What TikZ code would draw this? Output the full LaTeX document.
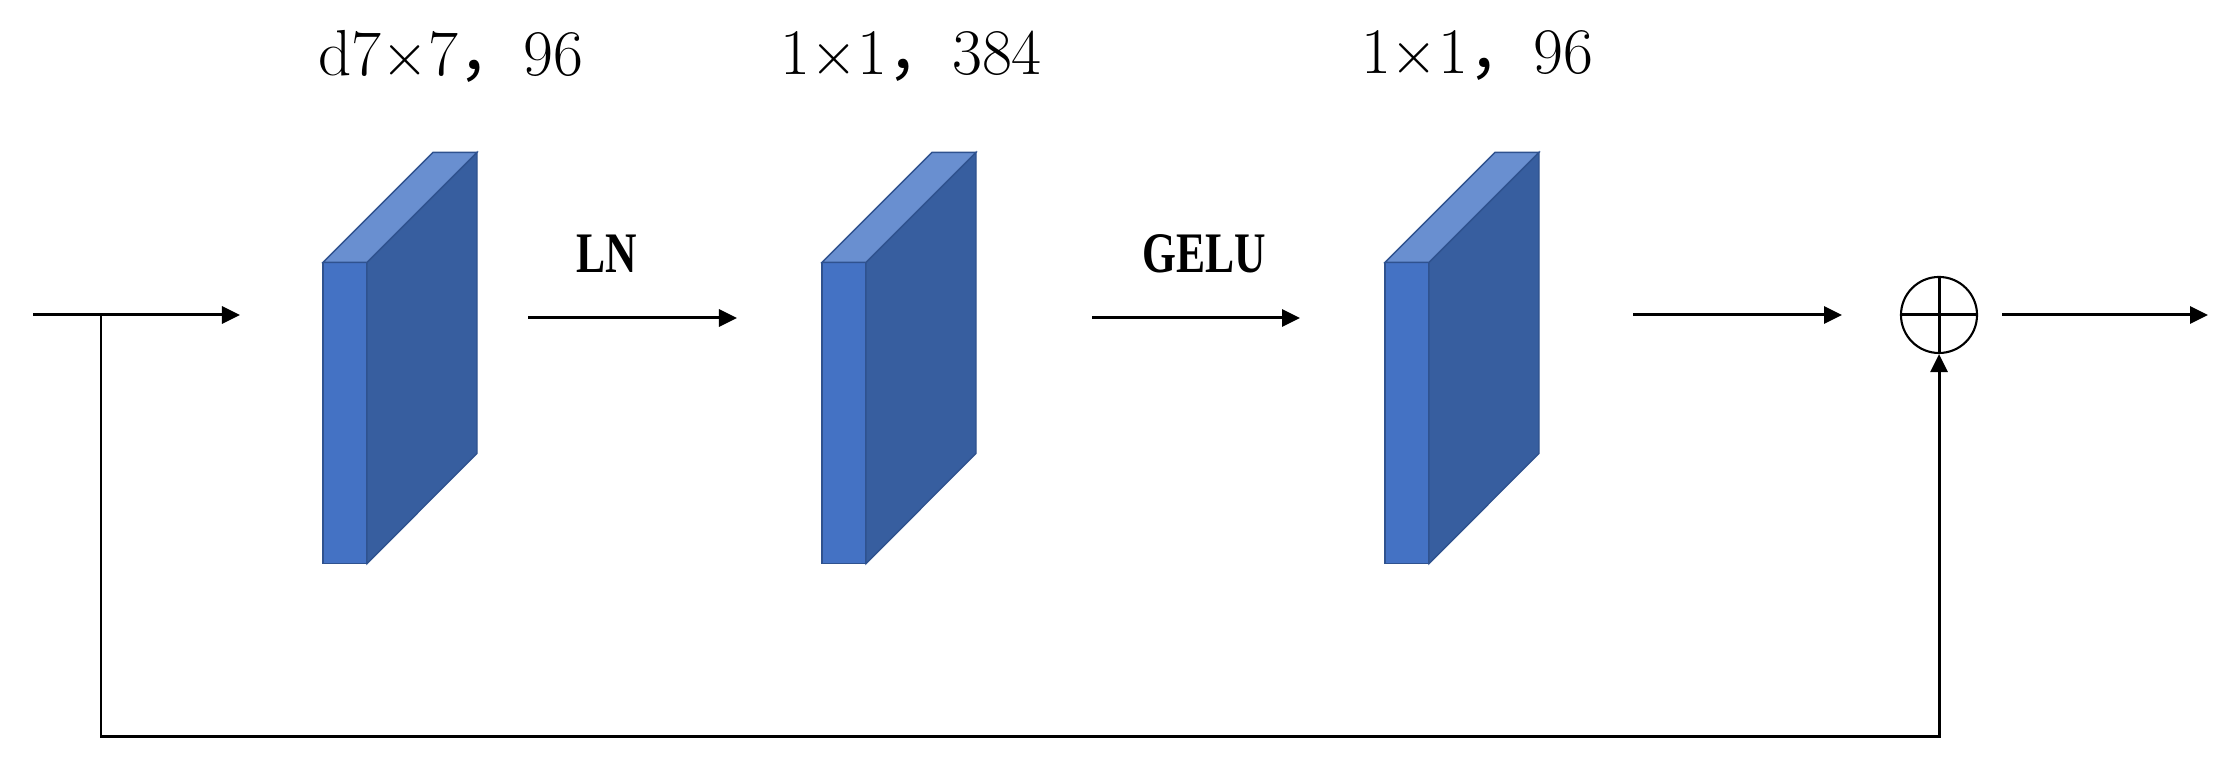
\documentclass[tikz,border=0pt]{standalone}
\usepackage{fontspec}
\newfontfamily\cjk{Noto Sans CJK SC}
\newfontfamily\opfont{Liberation Serif}
\usepackage{graphicx}
\usepackage{tikz}
\usetikzlibrary{arrows.meta,positioning}
\definecolor{slabfront}{HTML}{4472C4}
\definecolor{slabside}{HTML}{375E9F}
\definecolor{slabtop}{HTML}{698FD0}
\definecolor{slabedge}{HTML}{2F528F}
\tikzset{
  slab/.style={rectangle, draw=slabedge, line width=0.4pt, fill=slabfront, inner sep=0pt, outer sep=0pt, minimum width=0.44cm, minimum height=3.01cm},
  arr/.style={-{Triangle[length=0.18cm,width=0.17cm]}, line width=0.85pt},
  kernel/.style={font=\fontsize{18.5}{22}\selectfont, inner sep=0pt},
  op/.style={font=\opfont\fontsize{16.3}{19}\selectfont\bfseries, inner sep=0pt},
  sum/.style={circle, draw, line width=0.6pt, minimum size=0.76cm, inner sep=0pt}
}
\newcommand{\narrow}[1]{\scalebox{0.76}[1]{#1}}
\begin{document}
\begin{tikzpicture}[x=0.01cm, y=0.01cm]
    \useasboundingbox (0,0) rectangle (2233,771);
    % the three conv slabs
    \foreach \i/\x in {1/345, 2/844, 3/1407}{
        \node[slab] (c\i) at (\x,358) {};
        \filldraw[fill=slabside, draw=slabedge, line width=0.4pt] (c\i.north east) -- ++(110,110) -- ++(0,-301) -- (c\i.south east) -- cycle;
        \filldraw[fill=slabtop, draw=slabedge, line width=0.4pt] (c\i.north west) -- ++(110,110) -- ++(44,0) -- (c\i.north east) -- cycle;
    }
    \node[kernel] (k1) at (451,715) {d7{$\times$}7{\cjk ，}96};
    \node[kernel] (k2) at (911,715) {1{$\times$}1{\cjk ，}384};
    \node[kernel] (k3) at (1477,715) {1{$\times$}1{\cjk ，}96};
    \node[op] (ln) at (607,517) {\narrow{LN}};
    \node[op] (gelu) at (1204,517) {\narrow{GELU}};
    \node[sum] (add) at (1939,456) {};
    \draw[line width=0.85pt] (add.north) -- (add.south) (add.west) -- (add.east);

    \coordinate (in) at (33,456);
    \coordinate (split) at (101,456);
    \coordinate (in1) at (240,456);
    \coordinate (a1) at (528,453);
    \coordinate (a2) at (737,453);
    \coordinate (b1) at (1092,453);
    \coordinate (b2) at (1300,453);
    \coordinate (d1) at (1633,456);
    \coordinate (d2) at (1842,456);
    \coordinate (out1) at (2002,456);
    \coordinate (out) at (2208,456);
    \coordinate (low) at (101,34);

    \draw[arr] (in) -- (in1);
    \draw[arr] (a1) -- (a2);
    \draw[arr] (b1) -- (b2);
    \draw[arr] (d1) -- (d2);
    \draw[arr] (out1) -- (out);
    % residual path
    \draw[arr] (split) -- (low) -| (add.south);
\end{tikzpicture}
\end{document}
